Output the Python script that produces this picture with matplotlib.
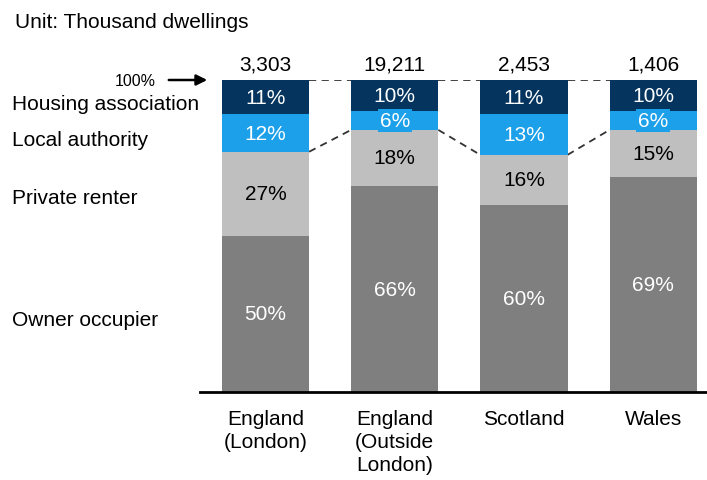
import numpy as np
import matplotlib.pyplot as plt

plt.rcParams['font.family'] = ['Liberation Sans', 'DejaVu Sans']

# --- Data ---
regions = ['England\n(London)', 'England\n(Outside\nLondon)', 'Scotland', 'Wales']
totals = ['3,303', '19,211', '2,453', '1,406']
owner = [50, 66, 60, 69]
private = [27, 18, 16, 15]
local = [12, 6, 13, 6]
housing = [11, 10, 11, 10]
series_names = ['Owner occupier', 'Private renter', 'Local authority', 'Housing association']

colors = ['#7f7f7f', '#bfbfbf', '#1ca0ea', '#05355f']
text_colors = ['white', 'black', 'white', 'white']
FS = 15

W, H = 707, 481
fig = plt.figure(figsize=(W / 100, H / 100), dpi=100)
# axes spans baseline (y=393px) to 100% (y=81px)
ax = fig.add_axes([200 / W, (H - 393) / H, 507 / W, 312 / H])

x = np.arange(len(regions))
width = 0.675
series = [owner, private, local, housing]
bottom = np.zeros(len(regions))
for vals, col, tcol in zip(series, colors, text_colors):
    vals = np.array(vals)
    ax.bar(x, vals, width, bottom=bottom, color=col, edgecolor='none', zorder=2)
    for xi, b, v in zip(x, bottom, vals):
        kw = {}
        if v < 8:
            kw['bbox'] = dict(boxstyle='square,pad=0.1', facecolor=col, edgecolor='none')
        ax.text(xi, b + v / 2, f'{v}%', ha='center', va='center', color=tcol,
                fontsize=FS, zorder=3, **kw)
    bottom = bottom + vals

# totals above bars
for xi, t, b in zip(x, totals, bottom):
    ax.text(xi, b + 2, t, ha='center', va='bottom', fontsize=FS, clip_on=False)

# dashed connectors
cum_pr = np.array(owner) + np.array(private)
for i in range(len(regions) - 1):
    x0, x1 = x[i] + width / 2, x[i + 1] - width / 2
    ax.plot([x0, x1], [bottom[i], bottom[i + 1]], ls=(0, (4, 3)), color='#333333', lw=1.3, zorder=1)
    ax.plot([x0, x1], [cum_pr[i], cum_pr[i + 1]], ls=(0, (4, 3)), color='#333333', lw=1.3, zorder=1)

# category labels
for xi, r in zip(x, regions):
    ax.text(xi, -5.5, r, ha='center', va='top', fontsize=FS, linespacing=1.25, clip_on=False)

ax.set_xlim(-0.507, 3.417)
ax.set_ylim(0, 100)
for s in ['top', 'right', 'left']:
    ax.spines[s].set_visible(False)
ax.spines['bottom'].set_linewidth(2)
ax.set_xticks([])
ax.set_yticks([])

# left-hand labels (figure pixel positions)
label_y = [320, 198, 141, 105]
for name, py in zip(series_names, label_y):
    fig.text(12 / W, 1 - py / H, name, ha='left', va='center', fontsize=FS)

fig.text(15 / W, 1 - 22 / H, 'Unit: Thousand dwellings', ha='left', va='center', fontsize=FS)

# 100% arrow
fig.text(135 / W, 1 - 82 / H, '100%', ha='center', va='center', fontsize=11.5)
ax.annotate('', xy=(210 / W, 1 - 81 / H), xycoords='figure fraction',
            xytext=(166 / W, 1 - 81 / H), textcoords='figure fraction',
            arrowprops=dict(arrowstyle='-|>', color='black', lw=1.8, mutation_scale=16))

fig.savefig('out.png', dpi=100)
